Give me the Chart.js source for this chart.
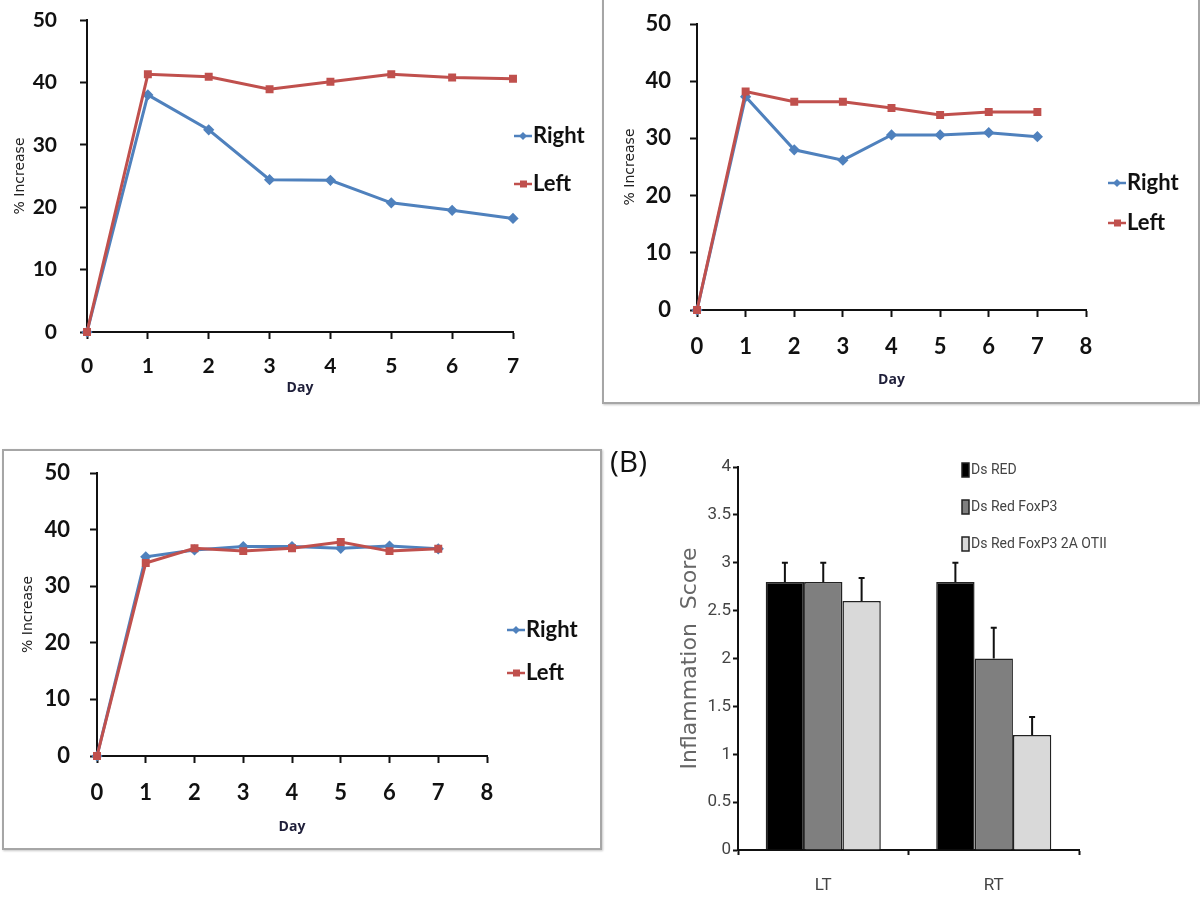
<!DOCTYPE html>
<html>
<head>
<meta charset="utf-8">
<script src="https://cdn.jsdelivr.net/npm/chart.js@4.4.1/dist/chart.umd.min.js"></script>
<style>
  body { margin: 0; background: #fff; }
  #wrap { position: relative; width: 1200px; height: 898px; overflow: hidden; }
  canvas { position: absolute; }
  .box { position: absolute; border: 2px solid #a6a6a6; box-shadow: 1px 1px 2px #c8c8c8; background: #fff; }
  #tagB { position: absolute; left: 610px; top: 440px; font: 30px "Open Sans", sans-serif; color: #111; }
</style>
</head>
<body>
<div id="wrap">
  <div class="box" style="left:602px; top:-2px; width:594px; height:402px;"></div>
  <div class="box" style="left:2px; top:449px; width:596px; height:397px;"></div>
  <canvas id="dayA" width="600" height="400" style="left:0; top:0;"></canvas>
  <canvas id="dayB" width="600" height="400" style="left:600px; top:0;"></canvas>
  <canvas id="dayC" width="600" height="410" style="left:0; top:440px;"></canvas>
  <canvas id="score" width="600" height="458" style="left:600px; top:440px;"></canvas>
  <div id="tagB">(B)</div>
</div>
<script>
// days after treatment
var days = [0, 1, 2, 3, 4, 5, 6, 7];

// % increase, top-left panel
var rightA = [0, 38.0, 32.4, 24.4, 24.3, 20.7, 19.5, 18.2];
var leftA  = [0, 41.3, 40.9, 38.9, 40.1, 41.3, 40.8, 40.6];
// top-right panel
var rightB = [0, 37.3, 28.0, 26.2, 30.6, 30.6, 31.0, 30.3];
var leftB  = [0, 38.2, 36.4, 36.4, 35.3, 34.1, 34.6, 34.6];
// bottom-left panel
var rightC = [0, 35.2, 36.4, 37.0, 37.0, 36.7, 37.1, 36.6];
var leftC  = [0, 34.1, 36.7, 36.2, 36.7, 37.8, 36.2, 36.6];

// (B) inflammation score
var sites = ['LT', 'RT'];
var groups = ['Ds RED', 'Ds Red FoxP3', 'Ds Red FoxP3 2A OTII'];
var scoreDsRed = [2.8, 2.8];
var scoreFoxP3 = [2.8, 2.0];
var scoreOTII  = [2.6, 1.2];
var errDsRed = [0.2, 0.2];
var errFoxP3 = [0.2, 0.32];
var errOTII  = [0.24, 0.19];

var BLUE = '#4f81bd', RED = '#c0504d';

// legend pinned at a spot of the canvas
var pinnedLegend = {
    id: 'pinnedLegend',
    afterDraw: function(chart, args, o) {
        var ctx = chart.ctx;
        ctx.save();
        ctx.font = o.font;
        ctx.textBaseline = 'middle';
        chart.data.datasets.forEach(function(ds, i) {
            var y = o.y + i * o.gap;
            if (o.box) {
                ctx.fillStyle = ds.backgroundColor;
                ctx.strokeStyle = '#222';
                ctx.lineWidth = 1.5;
                ctx.fillRect(o.x, y - 7, 7, 14);
                ctx.strokeRect(o.x, y - 7, 7, 14);
            } else {
                ctx.strokeStyle = ds.borderColor;
                ctx.fillStyle = ds.borderColor;
                ctx.lineWidth = 2.5;
                ctx.beginPath();
                ctx.moveTo(o.x, y);
                ctx.lineTo(o.x + 18, y);
                ctx.stroke();
                ctx.beginPath();
                if (ds.pointStyle === 'rect') {
                    ctx.fillRect(o.x + 6, y - 3.5, 7, 7);
                } else {
                    ctx.moveTo(o.x + 9, y - 4); ctx.lineTo(o.x + 13, y);
                    ctx.lineTo(o.x + 9, y + 4); ctx.lineTo(o.x + 5, y);
                    ctx.fill();
                }
            }
            ctx.fillStyle = o.color;
            ctx.fillText(ds.label, o.x + o.textOff, y);
        });
        ctx.restore();
    }
};

// upward error bars with a cap
var errorBars = {
    id: 'errorBars',
    afterDatasetsDraw: function(chart, args, o) {
        var ctx = chart.ctx, ys = chart.scales.y;
        ctx.save();
        ctx.strokeStyle = '#111';
        ctx.lineWidth = 2;
        chart.data.datasets.forEach(function(ds, i) {
            chart.getDatasetMeta(i).data.forEach(function(bar, j) {
                var top = ys.getPixelForValue(ds.data[j] + o.errors[i][j]);
                ctx.beginPath();
                ctx.moveTo(bar.x, bar.y);
                ctx.lineTo(bar.x, top);
                ctx.moveTo(bar.x - 3, top);
                ctx.lineTo(bar.x + 3, top);
                ctx.stroke();
            });
        });
        ctx.restore();
    }
};

// fixed axis boxes so the plot area sits where the layout padding says
function fixY(w) {
    return function(s) { s.width = w; s.paddingTop = 0; s.paddingBottom = 0; };
}
function fixX(h) {
    return function(s) { s.height = h; s.paddingLeft = 0; s.paddingRight = 0; };
}

function pts(vals) {
    return days.map(function(d, i) { return {x: d, y: vals[i]}; });
}

function dayChart(id, right, left, c) {
    var tickFont = {family: 'Lato, "Open Sans", sans-serif', size: c.tickSize, weight: 'bold'};
    return new Chart(document.getElementById(id), {
        type: 'line',
        data: {
            datasets: [{
                label: 'Right', data: pts(right), order: 1,
                borderColor: BLUE, backgroundColor: BLUE, borderWidth: 3,
                pointStyle: 'rectRot', pointRadius: 3.5, tension: 0, clip: false
            }, {
                label: 'Left', data: pts(left), order: 0,
                borderColor: RED, backgroundColor: RED, borderWidth: 3,
                pointStyle: 'rect', pointRadius: 3.5, tension: 0, clip: false
            }]
        },
        options: {
            responsive: false,
            animation: false,
            layout: {padding: c.pad},
            plugins: {
                legend: {display: false},
                tooltip: {enabled: false},
                pinnedLegend: {x: c.legX, y: c.legY, gap: c.legGap, textOff: 19,
                    font: 'bold 22px Lato, "Open Sans", sans-serif', color: '#111'}
            },
            scales: {
                x: {
                    type: 'linear', min: 0, max: c.xMax,
                    afterFit: fixX(c.xH),
                    ticks: {stepSize: 1, color: '#111', font: tickFont, padding: c.xPad},
                    grid: {drawOnChartArea: false, tickLength: 7, tickWidth: 2, tickColor: '#111'},
                    border: {color: '#111', width: 2},
                    title: {display: true, text: 'Day', color: '#1f1f3a',
                        font: {family: '"Open Sans", sans-serif', size: 14, weight: 'bold'},
                        padding: {top: 0, bottom: 4}}
                },
                y: {
                    min: 0, max: 50,
                    afterFit: fixY(c.yW),
                    ticks: {stepSize: 10, color: '#111', font: tickFont, padding: c.yPad},
                    grid: {drawOnChartArea: false, tickLength: 7, tickWidth: 2, tickColor: '#111'},
                    border: {color: '#111', width: 2},
                    title: {display: true, text: '% Increase', color: '#222',
                        font: {family: '"DejaVu Sans", sans-serif', size: 14},
                        padding: {top: c.yTitlePad, bottom: 0}}
                }
            }
        },
        plugins: [pinnedLegend]
    });
}

dayChart('dayA', rightA, leftA, {
    xMax: 7, tickSize: 21, pad: {left: 0, top: 20, right: 87, bottom: 0},
    yW: 87, xH: 68, xPad: 15, yPad: 23, yTitlePad: 12,
    legX: 514, legY: 136, legGap: 48
});

dayChart('dayB', rightB, leftB, {
    xMax: 8, tickSize: 22, pad: {left: 0, top: 24, right: 114, bottom: 8},
    yW: 97, xH: 82, xPad: 17, yPad: 19, yTitlePad: 22,
    legX: 508, legY: 183, legGap: 40
});

dayChart('dayC', rightC, leftC, {
    xMax: 8, tickSize: 22, pad: {left: 0, top: 33, right: 113, bottom: 11},
    yW: 97, xH: 83, xPad: 17, yPad: 20, yTitlePad: 20,
    legX: 507, legY: 190, legGap: 43
});

var narrow = 'Roboto, "Liberation Sans", sans-serif';

new Chart(document.getElementById('score'), {
    type: 'bar',
    data: {
        labels: sites,
        datasets: [
            {label: groups[0], data: scoreDsRed, backgroundColor: '#000000'},
            {label: groups[1], data: scoreFoxP3, backgroundColor: '#7f7f7f'},
            {label: groups[2], data: scoreOTII, backgroundColor: '#d9d9d9'}
        ].map(function(d) {
            d.borderColor = '#222'; d.borderWidth = 1.5;
            d.barPercentage = 1; d.categoryPercentage = 0.675;
            return d;
        })
    },
    options: {
        responsive: false,
        animation: false,
        layout: {padding: {left: 0, top: 27, right: 121, bottom: 0}},
        plugins: {
            legend: {display: false},
            tooltip: {enabled: false},
            pinnedLegend: {box: true, x: 362, y: 30, gap: 37, textOff: 9,
                font: '14px ' + narrow, color: '#444'},
            errorBars: {errors: [errDsRed, errFoxP3, errOTII]}
        },
        scales: {
            x: {
                afterFit: fixX(48),
                ticks: {color: '#444', font: {family: narrow, size: 17}, padding: 21},
                grid: {drawOnChartArea: false, offset: true, tickLength: 5, tickWidth: 2, tickColor: '#111'},
                border: {color: '#111', width: 2}
            },
            y: {
                min: 0, max: 4,
                afterFit: fixY(138),
                ticks: {stepSize: 0.5, color: '#444', font: {family: narrow, size: 17}, padding: 2,
                    callback: function(v) { return String(v); }},
                grid: {drawOnChartArea: false, tickLength: 5, tickWidth: 2, tickColor: '#111'},
                border: {color: '#111', width: 2},
                title: {display: true, text: 'Inflammation  Score', color: '#666',
                    font: {family: '"DejaVu Sans", sans-serif', size: 22},
                    padding: {top: 77, bottom: 0}}
            }
        }
    },
    plugins: [pinnedLegend, errorBars]
});
</script>
</body>
</html>
